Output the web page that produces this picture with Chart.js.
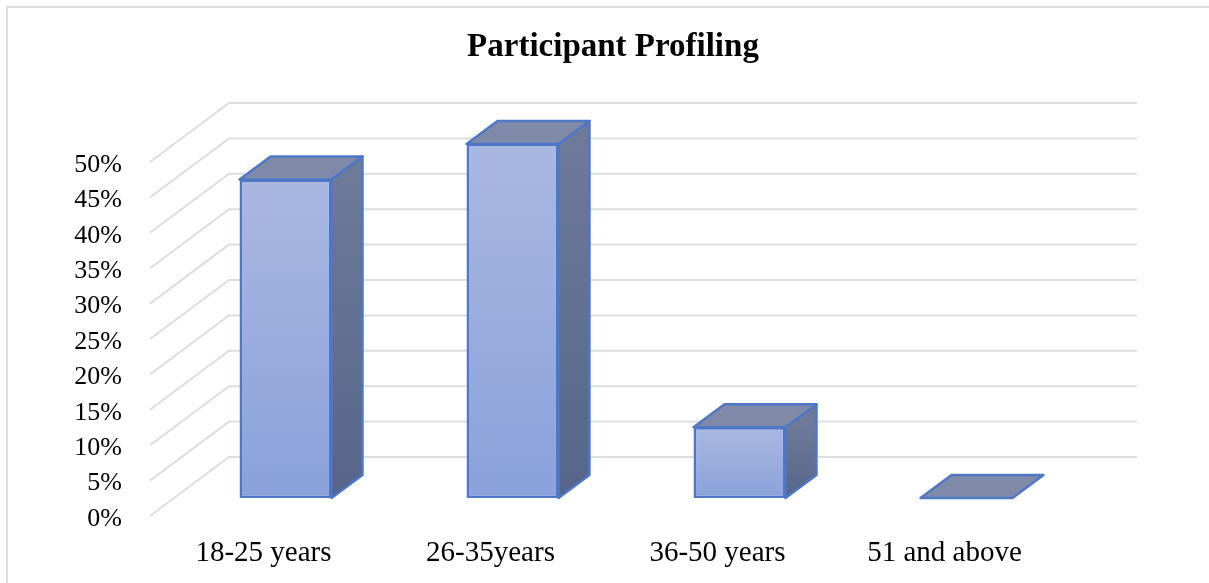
<!DOCTYPE html>
<html>
<head>
<meta charset="utf-8">
<title>Participant Profiling</title>
<script src="https://cdn.jsdelivr.net/npm/chart.js@4"></script>
<style>
  html, body { margin: 0; padding: 0; background: #fff; overflow: hidden; }
  #frame { position: absolute; left: 6px; top: 6px; right: 0; bottom: 0; border-left: 2px solid #dedede; border-top: 2px solid #dedede; }
  #myChart { position: absolute; left: 17px; top: 0; filter: blur(0.4px); }
</style>
</head>
<body>
<div id="frame"></div>
<canvas id="myChart" width="1192" height="583"></canvas>
<script>
const categories = ['18-25 years', '26-35years', '36-50 years', '51 and above']
const shares = [45, 50, 10, 0]

const serif = '"Liberation Serif", "Times New Roman", serif'

// tick labels sit a little under their lines, so the floor plane is lifted off the scale
const floorLift = -3
// the wall sits this far behind the axis plane, the bars about a third of the way in
const wallDepth = { x: 79, y: -59 }
const barOffset = { x: 22, y: -18 + floorLift }
const barDepth = { x: 31, y: -23 }

function faceGradient(ctx, y0, y1, from, to) {
  if (!isFinite(y0) || !isFinite(y1)) return from
  const g = ctx.createLinearGradient(0, y0, 0, y1)
  g.addColorStop(0, from)
  g.addColorStop(1, to)
  return g
}

function polygon(ctx, pts, fill, stroke) {
  ctx.beginPath()
  pts.forEach((p, i) => i ? ctx.lineTo(p[0], p[1]) : ctx.moveTo(p[0], p[1]))
  ctx.closePath()
  ctx.fillStyle = fill
  ctx.fill()
  ctx.lineWidth = 2.5
  ctx.lineJoin = 'round'
  ctx.strokeStyle = stroke
  ctx.stroke()
}

const wall3d = {
  id: 'wall3d',
  beforeDatasetsDraw(chart) {
    const { ctx, scales: { y }, chartArea } = chart
    ctx.save()
    ctx.strokeStyle = '#dedede'
    ctx.lineWidth = 2
    y.ticks.forEach(t => {
      const py = y.getPixelForValue(t.value) + floorLift
      ctx.beginPath()
      ctx.moveTo(chartArea.left, py)
      ctx.lineTo(chartArea.left + wallDepth.x, py + wallDepth.y)
      ctx.lineTo(chartArea.right + wallDepth.x, py + wallDepth.y)
      ctx.stroke()
    })
    ctx.restore()
  }
}

const bars3d = {
  id: 'bars3d',
  beforeDatasetDraw(chart) {
    chart.ctx.save()
    chart.ctx.translate(barOffset.x, barOffset.y)
  },
  afterDatasetDraw(chart, args) {
    const ctx = chart.ctx
    const edge = '#4f77c6'
    args.meta.data.forEach(bar => {
      const { x, y, base, width } = bar.getProps(['x', 'y', 'base', 'width'], true)
      const l = x - width / 2
      const r = x + width / 2
      const dx = barDepth.x
      const dy = barDepth.y
      if (base - y > 0) {
        polygon(ctx, [[r, y], [r + dx, y + dy], [r + dx, base + dy], [r, base]],
          faceGradient(ctx, y, base, '#6d7a99', '#566589'), edge)
      }
      polygon(ctx, [[l, y], [r, y], [r + dx, y + dy], [l + dx, y + dy]], '#7f8aa9', edge)
    })
    ctx.restore()
  }
}

new Chart(document.getElementById('myChart'), {
  type: 'bar',
  data: {
    labels: categories,
    datasets: [{
      label: 'Participants',
      data: shares,
      barPercentage: 0.405,
      categoryPercentage: 1,
      borderWidth: 2.5,
      borderSkipped: false,
      borderColor: '#4f77c6',
      backgroundColor(c) {
        const y = c.chart.scales.y
        if (!y || !c.parsed) return '#a9b8e1'
        return faceGradient(c.chart.ctx, y.getPixelForValue(c.parsed.y), y.getPixelForValue(0), '#a9b8e1', '#8aa1da')
      }
    }]
  },
  plugins: [wall3d, bars3d],
  options: {
    responsive: false,
    animation: false,
    layout: { padding: 0 },
    plugins: {
      legend: { display: false },
      tooltip: { enabled: false },
      title: {
        display: true,
        text: 'Participant Profiling',
        color: '#000',
        font: { family: serif, size: 33, weight: 'bold' },
        padding: { top: 28, bottom: 97.4 }
      }
    },
    scales: {
      x: {
        grid: { display: false },
        border: { display: false },
        ticks: { color: '#000', padding: 9, maxRotation: 0, font: { family: serif, size: 29 } },
        afterFit(s) { s.height = 64 }
      },
      y: {
        min: 0,
        max: 50,
        grid: { display: false, drawTicks: false },
        border: { display: false },
        ticks: { stepSize: 5, color: '#000', padding: 28, font: { family: serif, size: 26 }, callback: v => v + '%' },
        afterFit(s) { s.width = 133 }
      },
      // empty axis, holds the room the wall runs into on the right
      spacer: {
        position: 'right',
        grid: { display: false },
        border: { display: false },
        ticks: { display: false },
        afterFit(s) { s.width = 151 }
      }
    }
  }
})
</script>
</body>
</html>
